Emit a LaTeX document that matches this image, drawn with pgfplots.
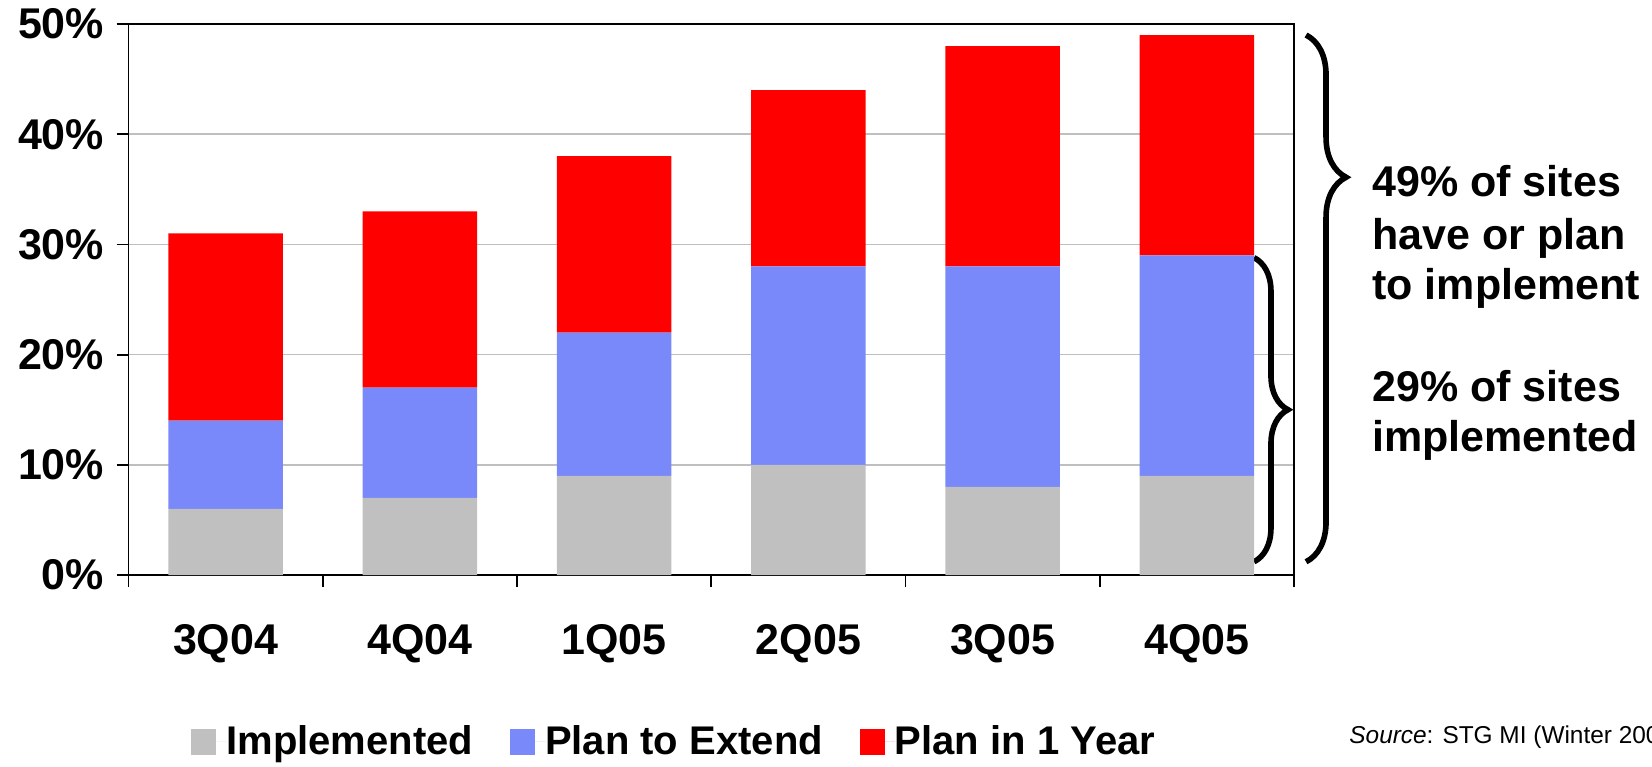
\documentclass[border=0pt]{standalone}
\usepackage{fontspec}
\setmainfont{Liberation Sans}
\usepackage{pgfplots}
\pgfplotsset{compat=1.18}
\usetikzlibrary{decorations.pathreplacing}

\definecolor{implgray}{RGB}{192,192,192}
\definecolor{extblue}{RGB}{121,137,249}
\definecolor{planred}{RGB}{255,0,0}

\newcommand{\bigfont}{\fontsize{21.5}{25}\selectfont\bfseries}
\newcommand{\legfont}{\fontsize{20}{24}\selectfont\bfseries}

\begin{document}
\begin{tikzpicture}
\begin{axis}[
    at={(64.25pt,95.5pt)}, anchor=south west,
    scale only axis, width=582.75pt, height=275.5pt,
    ybar stacked, bar width=0.59,
    xmin=-0.5, xmax=5.5, ymin=0, ymax=50,
    xtick={0,...,5},
    xticklabels={3Q04,4Q04,1Q05,2Q05,3Q05,4Q05},
    minor xtick={-0.5,0.5,...,5.5},
    ytick={0,10,...,50},
    yticklabels={0\%,10\%,20\%,30\%,40\%,50\%},
    tick pos=left, tick align=outside,
    major tick length=6pt, minor tick length=6pt,
    major x tick style={draw=none},
    every tick/.style={black, line width=0.9pt},
    minor x tick style={black, line width=0.9pt},
    ticklabel style={font=\bigfont},
    yticklabel style={inner sep=0pt, xshift=-6pt},
    xticklabel style={inner sep=0pt, yshift=-18.5pt},
    axis line style={line width=0.9pt},
    ymajorgrids, major grid style={line width=0.75pt, color=black!25},
    clip=false,
    legend columns=3,
    legend style={at={(0.0536,-0.303)}, anchor=west, draw=none, fill=none,
        inner sep=0pt, font=\legfont,
        nodes={inner sep=0pt},
        column sep=0pt,
        /tikz/every even column/.append style={column sep=18.5pt},
        cells={anchor=west}},
    legend image code/.code={%
        \fill[#1] (0pt,-6.5pt) rectangle (12.5pt,6.5pt);
        \path (0pt,0pt) -- (17.5pt,0pt);},
]
\addplot[fill=implgray, draw=none] coordinates {(0,6) (1,7) (2,9) (3,10) (4,8) (5,9)};
\addplot[fill=extblue, draw=none] coordinates {(0,8) (1,10) (2,13) (3,18) (4,20) (5,20)};
\addplot[fill=planred, draw=none] coordinates {(0,17) (1,16) (2,16) (3,16) (4,20) (5,20)};
\legend{Implemented, Plan to Extend, Plan in 1 Year}

% braces marking the totals of the last quarter
\draw[line width=2.8pt, decorate, decoration={brace, amplitude=20pt, aspect=0.27}]
    (axis cs:5.562,49) -- (axis cs:5.562,1.2);
\draw[line width=2.8pt, decorate, decoration={brace, amplitude=17pt, aspect=0.5}]
    (axis cs:5.294,28.8) -- (axis cs:5.294,1.2);
\end{axis}

% annotations to the right of the plot
\node[anchor=base west, inner sep=0pt, font=\bigfont] at (686pt,284.8pt) {49\% of sites};
\node[anchor=base west, inner sep=0pt, font=\bigfont] at (686pt,258.3pt) {have or plan};
\node[anchor=base west, inner sep=0pt, font=\bigfont] at (686pt,233.3pt) {to implement};
\node[anchor=base west, inner sep=0pt, font=\bigfont] at (686pt,182.3pt) {29\% of sites};
\node[anchor=base west, inner sep=0pt, font=\bigfont] at (686pt,157.3pt) {implemented};

\node[anchor=west, inner sep=0pt, font=\fontsize{12.2}{14}\selectfont] at (674.5pt,14.5pt)
    {\textit{Source}: STG MI (Winter 2006)};

\pgfresetboundingbox
\path[use as bounding box] (0,0) rectangle (826pt,383pt);
\end{tikzpicture}
\end{document}
